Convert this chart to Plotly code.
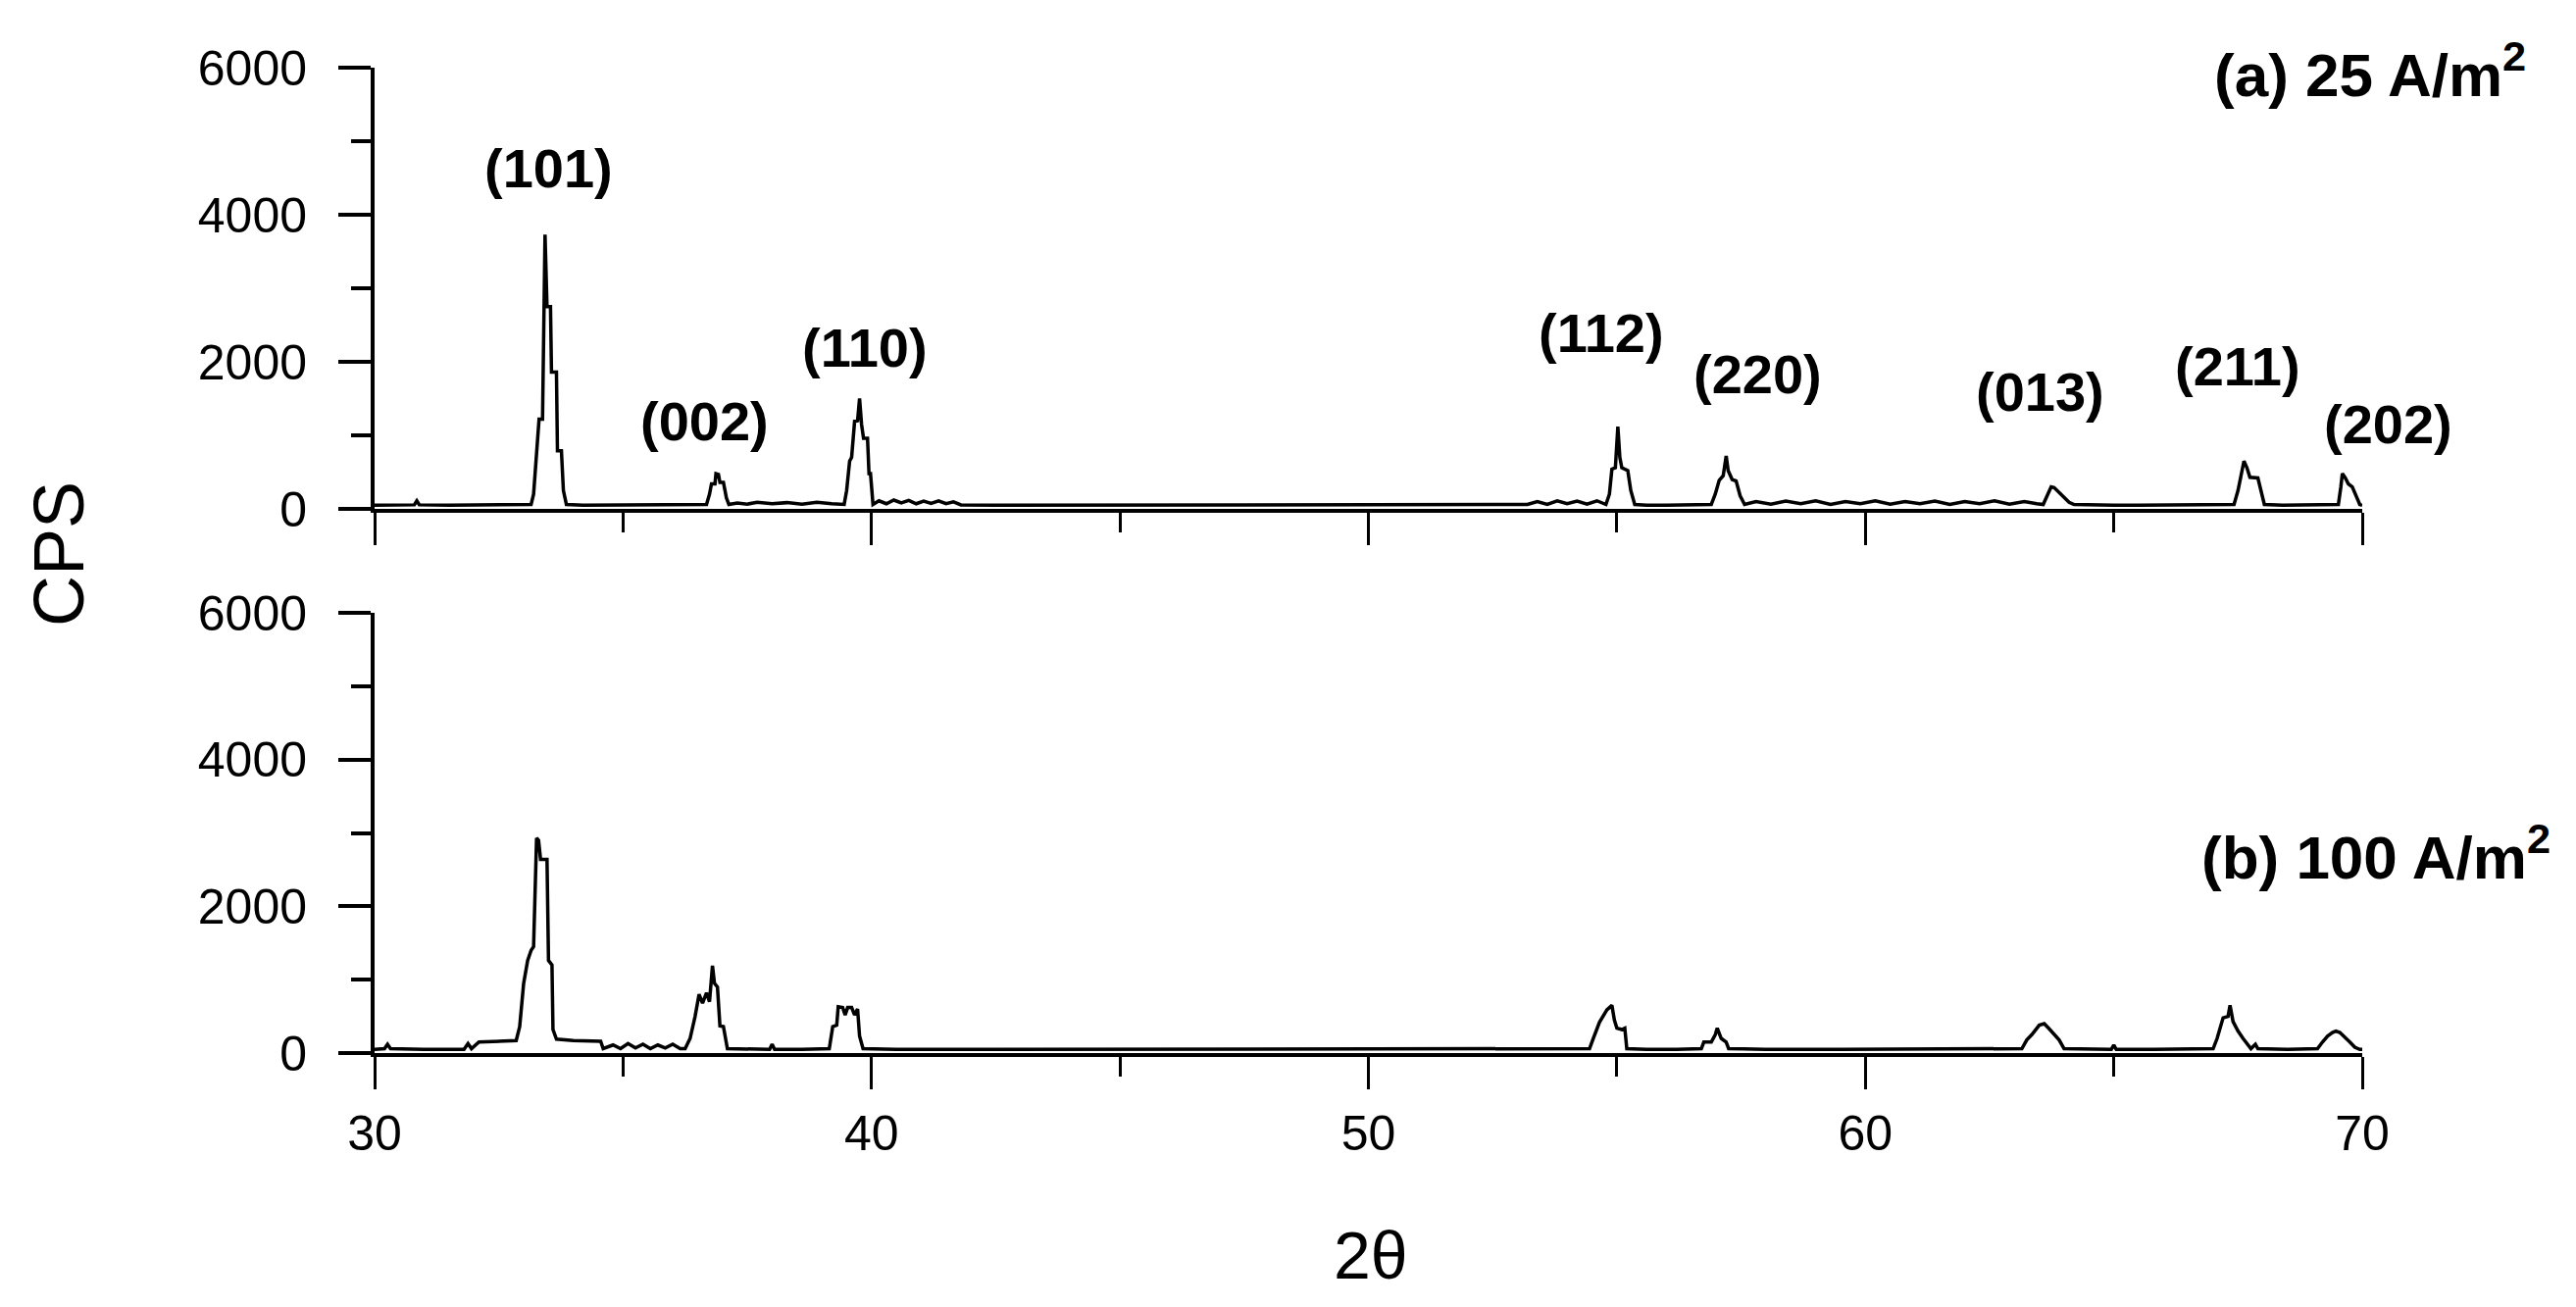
import plotly.graph_objects as go

# ---------------- data ----------------
# (a) 25 A/m2
theta_a = [30.0, 30.4, 30.8, 30.85, 30.9, 31.5, 32.0, 32.5, 33.0, 33.15, 33.2, 33.31, 33.38, 33.43, 33.47,
           33.54, 33.56, 33.66, 33.68, 33.76, 33.8, 33.86, 34.2, 34.8, 35.4, 36.0, 36.4, 36.68, 36.74,
           36.78, 36.85, 36.87, 36.92, 36.95, 37.02, 37.08, 37.13, 37.3, 37.5, 37.7, 38.0, 38.3, 38.6,
           38.9, 39.2, 39.45, 39.5, 39.56, 39.6, 39.66, 39.72, 39.76, 39.8, 39.84, 39.92, 39.95, 39.98,
           40.03, 40.15, 40.3, 40.45, 40.6, 40.75, 40.9, 41.05, 41.2, 41.35, 41.5, 41.65, 41.8, 42.5,
           44.0, 46.0, 48.0, 50.0, 52.0, 53.2, 53.4, 53.6, 53.8, 54.0, 54.2, 54.4, 54.6, 54.78, 54.85,
           54.9, 54.97, 55.02, 55.06, 55.1, 55.22, 55.28, 55.36, 55.6, 56.0, 56.4, 56.7, 56.9, 56.98,
           57.06, 57.14, 57.2, 57.24, 57.32, 57.4, 57.48, 57.57, 57.8, 58.1, 58.4, 58.7, 59.0, 59.3,
           59.6, 59.9, 60.2, 60.5, 60.8, 61.1, 61.4, 61.7, 62.0, 62.3, 62.6, 62.9, 63.2, 63.45, 63.58,
           63.66, 63.74, 63.8, 63.9, 64.0, 64.1, 64.2, 64.6, 65.0, 65.5, 66.0, 66.5, 67.0, 67.42, 67.5,
           67.56, 67.62, 67.68, 67.74, 67.9, 67.97, 68.03, 68.4, 68.8, 69.2, 69.52, 69.57, 69.6, 69.66,
           69.72, 69.8, 69.88, 69.95, 70.0]
cps_a = [50, 50, 55, 110, 55, 50, 50, 50, 50, 60, 200, 1220, 1220, 3730, 2750,
         2750, 1860, 1860, 790, 790, 250, 60, 50, 50, 50, 50, 55, 60, 200,
         340, 340, 480, 470, 360, 360, 150, 60, 80, 65, 90, 70, 85, 65,
         90, 70, 60, 250, 650, 700, 1190, 1200, 1500, 1150, 960, 960, 480, 480,
         60, 110, 70, 120, 80, 115, 70, 105, 75, 110, 70, 95, 55, 50,
         50, 50, 50, 50, 50, 60, 100, 60, 110, 70, 105, 65, 110, 60, 200,
         540, 560, 1120, 700, 560, 520, 250, 60, 50, 50, 55, 60, 60, 200,
         390, 450, 720, 520, 400, 380, 180, 60, 100, 65, 105, 70, 110, 60,
         100, 70, 110, 65, 100, 70, 105, 60, 100, 70, 110, 65, 100, 70, 60,
         180, 300, 290, 220, 150, 90, 60, 50, 50, 50, 50, 50, 50, 60, 250,
         430, 650, 560, 430, 420, 200, 60, 50, 50, 50, 60, 300, 480, 420,
         340, 300, 180, 60, 50]

# (b) 100 A/m2
theta_b = [30.0, 30.2, 30.26, 30.32, 31.0, 31.8, 31.88, 31.95, 32.1, 32.5, 32.85, 32.92, 33.0, 33.08,
           33.15, 33.2, 33.26, 33.3, 33.34, 33.47, 33.5, 33.57, 33.59, 33.66, 34.0, 34.55, 34.6, 34.8,
           34.95, 35.1, 35.25, 35.4, 35.55, 35.7, 35.85, 36.0, 36.15, 36.25, 36.35, 36.45, 36.53, 36.6,
           36.68, 36.74, 36.8, 36.84, 36.9, 36.95, 37.02, 37.1, 37.5, 37.95, 38.0, 38.05, 38.6, 39.15,
           39.22, 39.3, 39.33, 39.42, 39.47, 39.52, 39.6, 39.66, 39.72, 39.76, 39.83, 40.5, 42.0, 44.0,
           46.0, 48.0, 50.0, 52.0, 54.0, 54.45, 54.52, 54.65, 54.8, 54.9, 54.95, 55.0, 55.1, 55.16,
           55.2, 55.6, 56.2, 56.7, 56.75, 56.9, 56.98, 57.02, 57.1, 57.2, 57.25, 58.0, 59.5, 61.0,
           62.5, 63.15, 63.25, 63.35, 63.5, 63.6, 63.7, 63.8, 63.9, 64.0, 64.5, 64.95, 65.0, 65.05,
           65.8, 66.5, 67.0, 67.08, 67.2, 67.3, 67.34, 67.4, 67.5, 67.6, 67.7, 67.76, 67.85, 67.9,
           68.5, 69.1, 69.2, 69.3, 69.4, 69.47, 69.55, 69.65, 69.75, 69.85, 69.95, 70.0]
cps_b = [50, 60, 120, 60, 50, 50, 130, 60, 150, 160, 170, 360, 950, 1260,
         1400, 1450, 2930, 2900, 2640, 2640, 1260, 1200, 320, 190, 170, 160, 60, 110,
         60, 130, 70, 120, 60, 110, 70, 120, 60, 60, 200, 500, 800, 680,
         820, 700, 1190, 950, 900, 370, 360, 60, 50, 50, 120, 50, 50, 60,
         360, 380, 630, 620, 520, 620, 620, 520, 600, 230, 60, 50, 50, 50,
         50, 50, 50, 50, 50, 60, 190, 420, 590, 650, 450, 340, 320, 340,
         60, 50, 50, 60, 150, 150, 250, 340, 200, 150, 60, 50, 50, 50,
         50, 60, 180, 250, 380, 400, 330, 250, 180, 60, 50, 50, 110, 50,
         50, 50, 60, 200, 480, 500, 650, 430, 300, 200, 120, 60, 120, 60,
         50, 60, 150, 230, 280, 300, 280, 220, 150, 80, 50, 50]

# peak labels (Miller indices) for panel (a)
hkl_labels = ["(101)", "(002)", "(110)", "(112)", "(220)", "(013)", "(211)", "(202)"]
hkl_theta = [33.5, 36.65, 39.87, 54.69, 57.84, 63.51, 67.49, 70.53]
hkl_cps = [4640, 1190, 2200, 2400, 1830, 1590, 1940, 1150]

panel_labels = ["(a) 25 A/m<sup>2</sup>", "(b) 100 A/m<sup>2</sup>"]
x_ticks = [30, 40, 50, 60, 70]
y_ticks = [0, 2000, 4000, 6000]
X_RANGE = [30, 70]

# ---------------- figure ----------------
WIN_W, WIN_H = 2627, 1333
OFF = 8                     # default body margin of the html page
W, H = WIN_W - 2 * OFF, WIN_H - 2 * OFF
PLOT_L, PLOT_R = 382, 2409  # window pixel positions of 30 and 70
L = PLOT_L - OFF
R = W - (PLOT_R - OFF)
FONT = "Liberation Sans, Arial, sans-serif"

fig = go.Figure()
fig.add_trace(go.Scatter(x=theta_a, y=cps_a, mode="lines", xaxis="x", yaxis="y",
                         line=dict(color="black", width=3.5), showlegend=False))
fig.add_trace(go.Scatter(x=theta_b, y=cps_b, mode="lines", xaxis="x2", yaxis="y2",
                         line=dict(color="black", width=3.5), showlegend=False))


def py(p):
    """window pixel y -> paper y"""
    return 1 - (p - OFF) / H


def px(p):
    """window pixel x -> paper x"""
    return (p - PLOT_L) / (PLOT_R - PLOT_L)


common_x = dict(range=X_RANGE, tickvals=x_ticks, ticks="outside", ticklen=33, tickwidth=3,
                tickcolor="black", showline=True, linecolor="black", linewidth=4,
                showgrid=False, zeroline=False, automargin=False,
                minor=dict(dtick=5, tick0=30, ticks="outside", ticklen=20, tickwidth=3,
                           tickcolor="black", showgrid=False),
                tickfont=dict(family=FONT, size=50, color="black"))
common_y = dict(range=[0, 6000], tickvals=y_ticks, ticks="outside", ticklen=33, tickwidth=4,
                tickcolor="black", showline=True, linecolor="black", linewidth=4,
                showgrid=False, zeroline=False, automargin=False,
                minor=dict(dtick=1000, tick0=0, ticks="outside", ticklen=20, tickwidth=4,
                           tickcolor="black", showgrid=False),
                tickfont=dict(family=FONT, size=50, color="black"),
                ticklabelstandoff=22)

fig.update_layout(
    width=W, height=H,
    margin=dict(l=L, r=R, t=0, b=0, autoexpand=False),
    paper_bgcolor="white", plot_bgcolor="white",
    xaxis=dict(common_x, domain=[0, 1], anchor="y", showticklabels=False),
    yaxis=dict(common_y, domain=[py(519), py(69)], anchor="x"),
    xaxis2=dict(common_x, domain=[0, 1], anchor="y2", showticklabels=True, ticklabelstandoff=2),
    yaxis2=dict(common_y, domain=[py(1074), py(625)], anchor="x2"),
)

annotations = []
for lab, tx, ty in zip(hkl_labels, hkl_theta, hkl_cps):
    annotations.append(dict(x=(tx - X_RANGE[0]) / (X_RANGE[1] - X_RANGE[0]), y=ty,
                            xref="paper", yref="y", text=lab, showarrow=False,
                            xanchor="center", yanchor="middle",
                            font=dict(family=FONT, size=56, color="black", weight="bold")))

annotations.append(dict(x=px(2578), y=py(72), xref="paper", yref="paper",
                        text=panel_labels[0], showarrow=False, xanchor="right", yanchor="middle",
                        font=dict(family=FONT, size=62, color="black", weight="bold")))
annotations.append(dict(x=px(2603), y=py(870), xref="paper", yref="paper",
                        text=panel_labels[1], showarrow=False, xanchor="right", yanchor="middle",
                        font=dict(family=FONT, size=62, color="black", weight="bold")))
annotations.append(dict(x=px(60), y=py(565), xref="paper", yref="paper",
                        text="CPS", showarrow=False, textangle=-90, xanchor="center", yanchor="middle",
                        font=dict(family=FONT, size=72, color="black")))
annotations.append(dict(x=px(1398), y=py(1280), xref="paper", yref="paper",
                        text="2θ", showarrow=False, xanchor="center", yanchor="middle",
                        font=dict(family=FONT, size=68, color="black")))
fig.update_layout(annotations=annotations)

fig.write_html("out.html")
